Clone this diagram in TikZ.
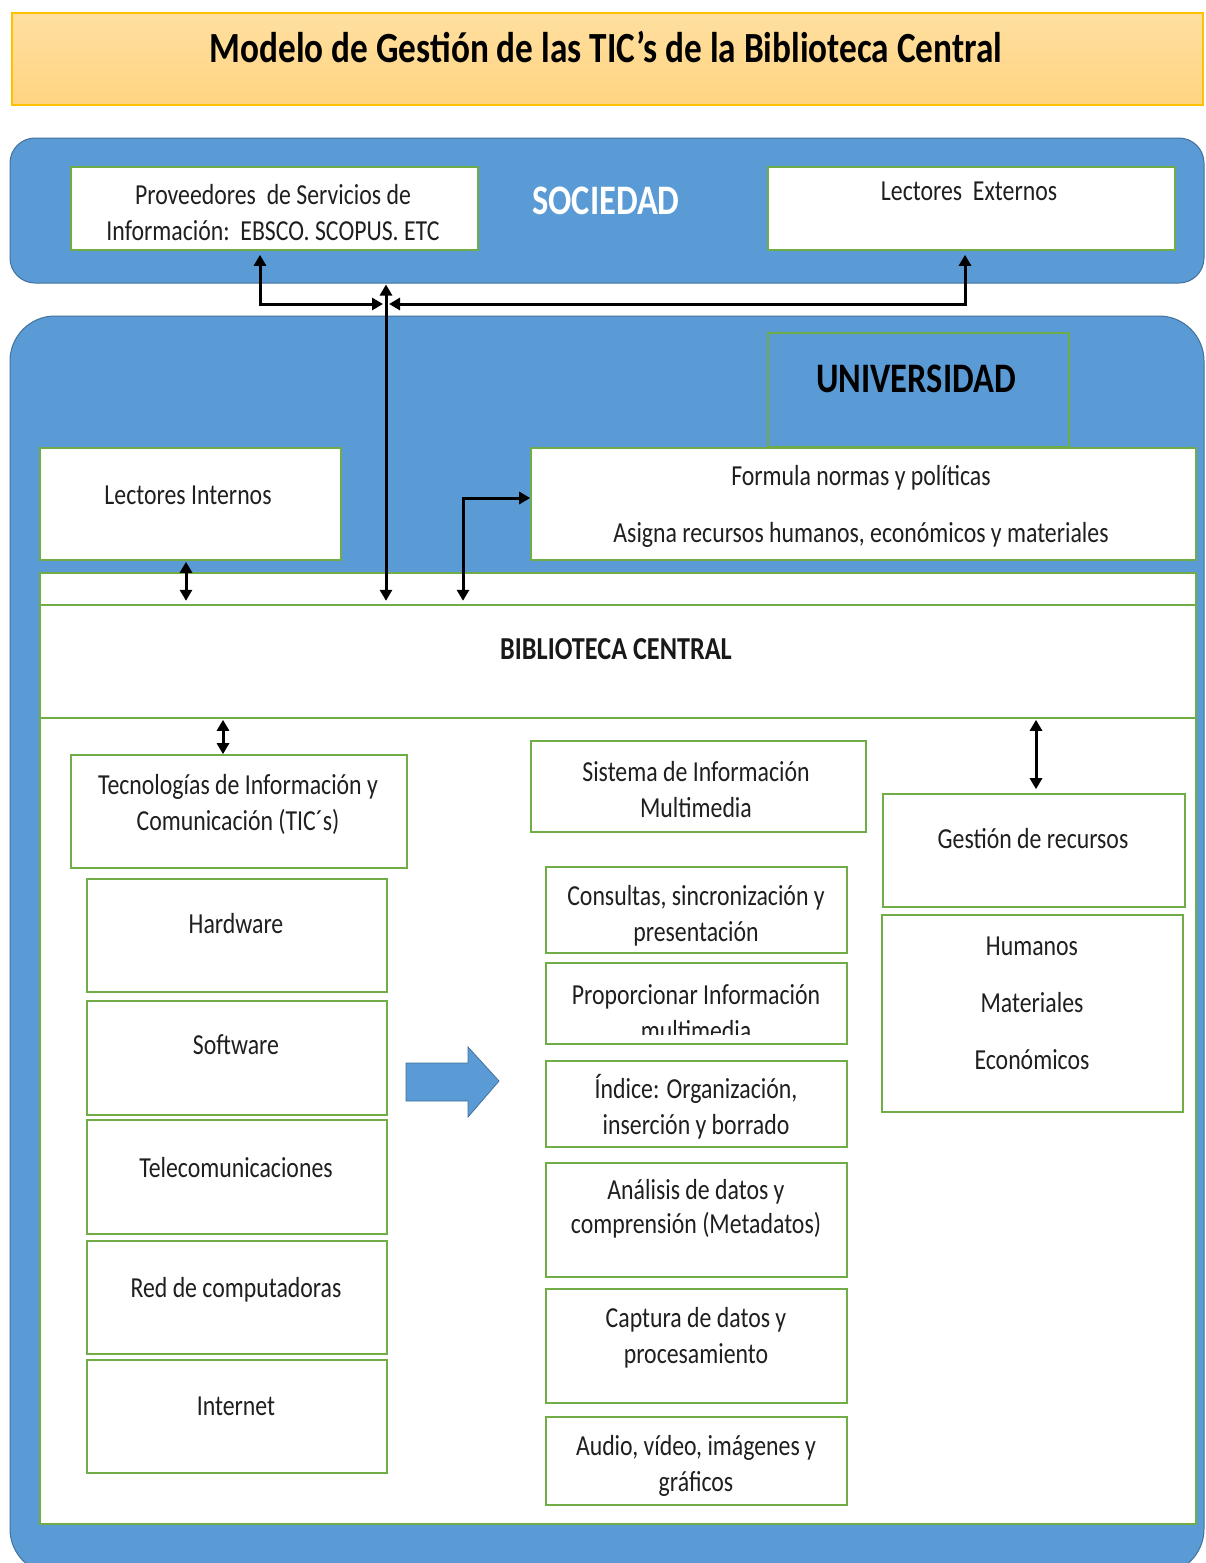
\documentclass[tikz,border=0pt]{standalone}
\usepackage{fontspec}
\setmainfont[FakeStretch=0.82]{Carlito}
\usetikzlibrary{fit,arrows.meta,calc}
\definecolor{sblue}{HTML}{5B9BD5}
\definecolor{sblueD}{HTML}{41719C}
\definecolor{sgreen}{HTML}{70AD47}
\definecolor{sgold}{HTML}{FFC000}
\definecolor{orT}{HTML}{FFDFA0}
\definecolor{orB}{HTML}{FFD480}
\begin{document}
\begin{tikzpicture}[x=1pt,y=-1pt,
 gbox/.style={draw=sgreen, line width=1.6pt, fill=white, inner sep=0pt},
 bbox/.style={draw=sgreen, line width=1.4pt, fill=sblue, inner sep=0pt},
 txt/.style={font=\fontsize{29}{36}\selectfont, align=center, inner sep=0pt, text=black!88},
 hdr/.style={font=\bfseries\fontsize{42}{46}\selectfont, inner sep=0pt},
 con/.style={line width=3pt, {Triangle[length=11pt,width=12pt]}-{Triangle[length=11pt,width=12pt]}},
]
\useasboundingbox (0,0) rectangle (1205,1563);
% title
\node[fit={(12,13)(1203,105)}, inner sep=0pt, draw=sgold, line width=2pt, top color=orT, bottom color=orB] (title) {};
\node[font=\bfseries\fontsize{43}{46}\selectfont, inner sep=0pt] (titlet) at (606,47) {Modelo de Gestión de las TIC’s de la Biblioteca Central};
% sociedad
\node[fit={(10,138)(1204,283)}, inner sep=0pt, draw=sblueD, line width=1pt, fill=sblue, rounded corners=25pt] (soc) {};
\node[hdr, text=white] (soct) at (606,201) {SOCIEDAD};
\node[gbox, fit={(71,167)(478,250)}] (prov) {};
\node[txt] (provt) at (273,213) {Proveedores\ \ de Servicios de\\Información:\ \ EBSCO. SCOPUS.\ ETC};
\node[gbox, fit={(768,167)(1175,250)}] (ext) {};
\node[txt] (extt) at (969,191) {Lectores\ \ Externos};
% universidad
\node[fit={(10,316)(1204,1574)}, inner sep=0pt, draw=sblueD, line width=1pt, fill=sblue, rounded corners=45pt] (uni) {};
\node[bbox, fit={(768,333)(1069,447)}] (ul) {};
\node[hdr, text=black] (ult) at (916,379) {UNIVERSIDAD};
\node[gbox, fit={(40,448)(341,560)}] (li) {};
\node[txt] (lit) at (188,495) {Lectores Internos};
\node[gbox, fit={(531,448)(1196,560)}] (form) {};
\node[txt] (formt) at (861,506) {Formula normas y políticas\\[21pt]Asigna recursos humanos, económicos y materiales};
% biblioteca
\node[gbox, fit={(40,573)(1196,605)}] (strip) {};
\node[gbox, fit={(40,605)(1196,718)}] (bibh) {};
\node[gbox, fit={(40,718)(1196,1524)}] (bibb) {};
\node[font=\bfseries\fontsize{32}{36}\selectfont, inner sep=0pt, text=black!90] (bibt) at (616,649) {BIBLIOTECA CENTRAL};
% TIC column
\node[gbox, fit={(71,755)(407,868)}] (tic) {};
\node[txt] (tict) at (238,804) {Tecnologías de Información y\\Comunicación (TIC´s)};
\node[gbox, fit={(87,879)(387,992)}] (hw) {};
\node[txt] (hwt) at (236,924) {Hardware};
\node[gbox, fit={(87,1001)(387,1115)}] (sw) {};
\node[txt] (swt) at (236,1045) {Software};
\node[gbox, fit={(87,1120)(387,1234)}] (tel) {};
\node[txt] (telt) at (236,1168) {Telecomunicaciones};
\node[gbox, fit={(87,1241)(387,1354)}] (red) {};
\node[txt] (redt) at (236,1290) {Red de computadoras};
\node[gbox, fit={(87,1360)(387,1473)}] (inet) {};
\node[txt] (inett) at (236,1406) {Internet};
% block arrow
\path[fill=sblue, draw=sblueD, line width=0.8pt] (406,1063) -- (468,1063) -- (468,1047) -- (499,1081) -- (468,1117) -- (468,1101) -- (406,1101) -- cycle;
% middle column
\node[gbox, fit={(531,741)(866,832)}] (sim) {};
\node[txt] (simt) at (696,790) {Sistema de Información\\Multimedia};
\node[gbox, fit={(546,867)(847,953)}] (cons) {};
\node[txt] (const) at (696,916) {Consultas, sincronización y\\presentación};
\node[gbox, fit={(546,963)(847,1044)}] (prop) {};
\begin{scope}
\clip (546,963) rectangle (847,1034);
\node[txt] (propt) at (696,1013) {Proporcionar Información\\multimedia};
\end{scope}
\node[gbox, fit={(546,1061)(847,1147)}] (ind) {};
\node[txt] (indt) at (696,1107) {Índice: Organización,\\inserción y borrado};
\node[gbox, fit={(546,1163)(847,1277)}] (ana) {};
\node[txt, font=\fontsize{29}{34}\selectfont] (anat) at (696,1209) {Análisis de datos y\\comprensión (Metadatos)};
\node[gbox, fit={(546,1289)(847,1403)}] (capt) {};
\node[txt] (captt) at (696,1338) {Captura de datos y\\procesamiento};
\node[gbox, fit={(546,1417)(847,1505)}] (aud) {};
\node[txt] (audt) at (696,1466) {Audio, vídeo, imágenes y\\gráficos};
% right column
\node[gbox, fit={(883,794)(1185,907)}] (ges) {};
\node[txt] (gest) at (1033,839) {Gestión de recursos};
\node[gbox, fit={(882,915)(1183,1112)}] (hum) {};
\node[txt] (humt) at (1032,1003) {Humanos\\[21pt]Materiales\\[21pt]Económicos};
% connectors
\coordinate (j) at (386,304);
\coordinate (cL) at (186,0);
\coordinate (cF) at (463,0);
\coordinate (cT) at (223,0);
\coordinate (cG) at (1036,0);
\draw[con, shorten >=5pt, shorten <=1pt] (j |- soc.south) -- (j |- strip.south);
\draw[con, shorten <=4pt] ([xshift=-14.5pt]prov.south) |- ([xshift=-3pt]j);
\draw[con, shorten <=4pt] ([xshift=-6.5pt]ext.south) |- ([xshift=3pt]j);
\draw[con, shorten >=5pt, shorten <=1pt] (cL |- li.south) -- (cL |- strip.south);
\draw[con, shorten <=5pt] (cF |- strip.south) |- ([yshift=6pt]form.west);
\draw[con, shorten <=1pt] (cT |- bibh.south) -- (cT |- tic.north);
\draw[con, shorten <=1pt, shorten >=4pt] (cG |- bibh.south) -- (cG |- ges.north);
\end{tikzpicture}
\end{document}
